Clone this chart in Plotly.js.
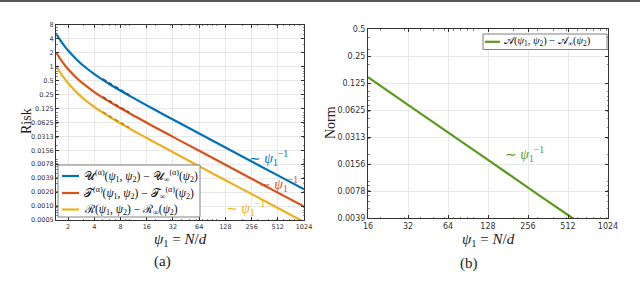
<!DOCTYPE html>
<html><head><meta charset="utf-8">
<script src="https://cdn.plot.ly/plotly-3.0.1.min.js"></script>
<style>html,body{margin:0;padding:0;background:#fff}#g{width:640px;height:294px}</style>
</head><body><div id="g"></div>
<script>
// Left panel (a)
const psiA = [1.45, 1.6, 1.8, 2, 2.5, 3, 4, 5, 6, 8, 12, 16, 24, 32, 64, 128, 256, 512, 1024];
const riskU = [5.21, 3.87, 2.83, 2.21, 1.42, 1.04, 0.687, 0.517, 0.416, 0.301, 0.196, 0.145, 0.0961, 0.0719, 0.0359, 0.0179, 0.00897, 0.00448, 0.00224];
const riskT = [2.04, 1.52, 1.116, 0.876, 0.567, 0.421, 0.282, 0.213, 0.173, 0.126, 0.0825, 0.0612, 0.0405, 0.0304, 0.01517, 0.00758, 0.00379, 0.0019, 0.00095];
const riskR = [1.05, 0.772, 0.56, 0.435, 0.277, 0.203, 0.134, 0.1013, 0.0816, 0.0592, 0.0385, 0.0286, 0.019, 0.0142, 0.00707, 0.00353, 0.00177, 0.000884, 0.000442];
// dashed (theory) segments around psi1 = 5..10
const psiDash = [5, 6, 8, 10];
const dashU = [0.54, 0.435, 0.315, 0.247];
const dashT = [0.222, 0.18, 0.131, 0.103];
const dashR = [0.105, 0.085, 0.0616, 0.0485];
// Right panel (b)
const psiB = [16, 32, 64, 128, 256, 512, 1024];
const normA = [0.146, 0.072, 0.0355, 0.0175, 0.0086, 0.00425, 0.0021];

const xTicksA = [2, 4, 8, 16, 32, 64, 128, 256, 512, 1024];
const yTicksA = [8, 4, 2, 1, 0.5, 0.25, 0.125, 0.0625, 0.03125, 0.015625, 0.0078125, 0.00390625, 0.001953125, 0.0009765625, 0.00048828125];
const yTextA = ['8', '4', '2', '1', '0.5', '0.25', '0.125', '0.0625', '0.0313', '0.0156', '0.0078', '0.0039', '0.0020', '0.0010', '0.0005'];
const xTicksB = [16, 32, 64, 128, 256, 512, 1024];
const yTicksB = [0.5, 0.25, 0.125, 0.0625, 0.03125, 0.015625, 0.0078125, 0.00390625];
const yTextB = ['0.5', '0.25', '0.125', '0.0625', '0.0313', '0.0156', '0.0078', '0.0039'];

const namesA = [
  '𝒰<sup>(α)</sup>(<i>ψ</i><sub>1</sub>, <i>ψ</i><sub>2</sub>) − 𝒰<sub>∞</sub><sup>(α)</sup>(<i>ψ</i><sub>2</sub>)',
  '𝒯<sup>(α)</sup>(<i>ψ</i><sub>1</sub>, <i>ψ</i><sub>2</sub>) − 𝒯<sub>∞</sub><sup>(α)</sup>(<i>ψ</i><sub>2</sub>)',
  'ℛ(<i>ψ</i><sub>1</sub>, <i>ψ</i><sub>2</sub>) − ℛ<sub>∞</sub>(<i>ψ</i><sub>2</sub>)'
];
const nameB = '𝒜(<i>ψ</i><sub>1</sub>, <i>ψ</i><sub>2</sub>) − 𝒜<sub>∞</sub>(<i>ψ</i><sub>2</sub>)';
const caption = 'of features comparison with the number of samples, <i>λ</i>/<i>ψ</i><sub>2</sub> = 1.5, activation function <i>σ</i>(<i>x</i>) = max(0, <i>x</i>)';

const cU = '#0072BD', cT = '#D95319', cR = '#EDB120', cA = '#5b9a1c';
const serif = 'Liberation Serif, DejaVu Serif, serif';

function line(x, y, color, name, xa, ya, dash, w) {
  return {x: x, y: y, type: 'scatter', mode: 'lines', name: name, xaxis: xa, yaxis: ya, showlegend: false,
    line: {color: color, width: w || 2.2, shape: 'spline', smoothing: 0.8, dash: dash || 'solid'}};
}
const traces = [
  line(psiA, riskU, cU, namesA[0], 'x', 'y'),
  line(psiA, riskT, cT, namesA[1], 'x', 'y'),
  line(psiA, riskR, cR, namesA[2], 'x', 'y'),
  line(psiDash, dashU, '#0b5a8f', 'theory U', 'x', 'y', '4px,3px', 1.6),
  line(psiDash, dashT, '#a83f12', 'theory T', 'x', 'y', '4px,3px', 1.6),
  line(psiDash, dashR, '#b8870f', 'theory R', 'x', 'y', '4px,3px', 1.6),
  line(psiB, normA, cA, nameB, 'x2', 'y2')
];

function ax(dom, rng, tv, tt, fs) {
  return {type: 'log', domain: dom, range: rng, tickvals: tv, ticktext: tt,
    ticks: 'inside', ticklen: 3, tickcolor: '#333', mirror: 'ticks', showline: true, linecolor: '#333', linewidth: 1,
    minor: {ticks: 'inside', ticklen: 1.5, tickcolor: '#888', dtick: 'D1', showgrid: false},
    showgrid: true, gridcolor: '#e8e8e8', zeroline: false, tickfont: {family: 'DejaVu Sans, sans-serif', size: fs, color: '#333'}};
}
const L2 = Math.log10(2);
const P = (x) => x/640, Q = (y) => (294-y)/294;
function ann(x, y, text, size, color, angle, xanchor) {
  return {xref: 'paper', yref: 'paper', x: P(x), y: Q(y), xanchor: xanchor || 'center', yanchor: 'middle', text: text,
    textangle: angle || 0, showarrow: false, font: {family: serif, size: size, color: color}};
}
function seg(x0, x1, y, color) {
  return {type: 'line', xref: 'paper', yref: 'paper', x0: P(x0), x1: P(x1), y0: Q(y), y1: Q(y), line: {color: color, width: 2.2}};
}
function box(x0, y0, x1, y1) {
  return {type: 'rect', xref: 'paper', yref: 'paper', x0: P(x0), x1: P(x1), y0: Q(y1), y1: Q(y0), line: {color: '#808080', width: 1}, fillcolor: '#fff', layer: 'above'};
}
const legRows = [176, 193, 209.5];
const layout = {
  width: 640, height: 294, margin: {l: 0, r: 0, t: 0, b: 0}, paper_bgcolor: '#fff', plot_bgcolor: '#fff', showlegend: false,
  xaxis: Object.assign(ax([56/640, 304/640], [Math.log10(1.45), 10*L2], xTicksA, xTicksA.map(String), 6.5), {anchor: 'y'}),
  yaxis: Object.assign(ax([74/294, 269.3/294], [-11*L2, 3*L2], yTicksA, yTextA, 6.5), {anchor: 'x'}),
  xaxis2: Object.assign(ax([368/640, 608/640], [4*L2, 10*L2], xTicksB, xTicksB.map(String), 8), {anchor: 'y2'}),
  yaxis2: Object.assign(ax([75.7/294, 264.7/294], [-8*L2, -1*L2], yTicksB, yTextB, 8), {anchor: 'x2'}),
  shapes: [
    {type: 'rect', xref: 'paper', yref: 'paper', x0: 0, x1: 1, y0: 1 - 2/294, y1: 1, line: {width: 0}, fillcolor: '#555'},
    box(58, 165, 200, 217),
    seg(62, 79, legRows[0], cU), seg(62, 79, legRows[1], cT), seg(62, 79, legRows[2], cR),
    box(483, 34, 607, 49.5),
    seg(485, 500, 41.8, cA)
  ],
  annotations: [
    ann(82, legRows[0], namesA[0], 11.5, '#111', 0, 'left'),
    ann(82, legRows[1], namesA[1], 11.5, '#111', 0, 'left'),
    ann(82, legRows[2], namesA[2], 11.5, '#111', 0, 'left'),
    ann(502, 41.8, nameB, 10.5, '#111', 0, 'left'),
    ann(26, 121, 'Risk', 14, '#222', -90),
    ann(330, 123, 'Norm', 14, '#222', -90),
    ann(180, 240, '<i>ψ</i><sub>1</sub> = <i>N</i>/<i>d</i>', 15, '#222'),
    ann(488, 240, '<i>ψ</i><sub>1</sub> = <i>N</i>/<i>d</i>', 15, '#222'),
    ann(162, 261, '(a)', 15, '#222'),
    ann(469, 263, '(b)', 15, '#222'),
    ann(268, 158, '∼ <i>ψ</i><sub>1</sub><sup>−1</sup>', 14, cU),
    ann(278, 184, '∼ <i>ψ</i><sub>1</sub><sup>−1</sup>', 14, cT),
    ann(245, 208, '∼ <i>ψ</i><sub>1</sub><sup>−1</sup>', 14, cR),
    ann(524, 154, '∼ <i>ψ</i><sub>1</sub><sup>−1</sup>', 14, cA),
    ann(0, 300.5, caption, 14.5, '#222', 0, 'left')
  ]
};
Plotly.newPlot('g', traces, layout, {displayModeBar: false, staticPlot: true});
</script></body></html>
